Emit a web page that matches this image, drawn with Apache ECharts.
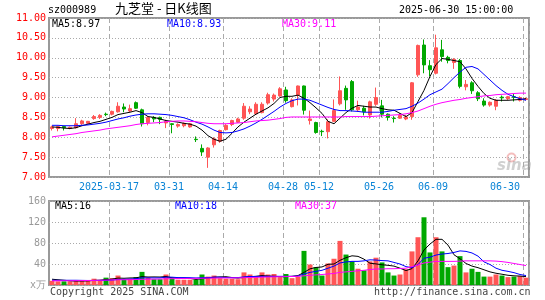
<!DOCTYPE html>
<html>
<head>
<meta charset="utf-8">
<script src="https://cdn.jsdelivr.net/npm/echarts@6/dist/echarts.min.js"></script>
<style>
  html, body { margin: 0; padding: 0; background: #fff; }
  #chart { width: 545px; height: 300px; }
</style>
</head>
<body>
<div id="chart"></div>
<script>
// 九芝堂 sz000989 日K线 2025-03-03 ~ 2025-06-30
var dates = [
  '2025-03-03','2025-03-04','2025-03-05','2025-03-06','2025-03-07','2025-03-10','2025-03-11','2025-03-12','2025-03-13','2025-03-14',
  '2025-03-17','2025-03-18','2025-03-19','2025-03-20','2025-03-21','2025-03-24','2025-03-25','2025-03-26','2025-03-27','2025-03-28',
  '2025-03-31','2025-04-01','2025-04-02','2025-04-03','2025-04-07','2025-04-08','2025-04-09','2025-04-10','2025-04-11','2025-04-14',
  '2025-04-15','2025-04-16','2025-04-17','2025-04-18','2025-04-21','2025-04-22','2025-04-23','2025-04-24','2025-04-25','2025-04-28',
  '2025-04-29','2025-04-30','2025-05-06','2025-05-07','2025-05-08','2025-05-12','2025-05-13','2025-05-14','2025-05-15','2025-05-16',
  '2025-05-19','2025-05-20','2025-05-21','2025-05-22','2025-05-23','2025-05-26','2025-05-27','2025-05-28','2025-05-29','2025-05-30',
  '2025-06-03','2025-06-04','2025-06-05','2025-06-06','2025-06-09','2025-06-10','2025-06-11','2025-06-12','2025-06-13','2025-06-16',
  '2025-06-17','2025-06-18','2025-06-19','2025-06-20','2025-06-23','2025-06-24','2025-06-25','2025-06-26','2025-06-27','2025-06-30'
];

var opens = [
  8.22, 8.22, 8.27, 8.22, 8.24, 8.34, 8.35, 8.47, 8.50, 8.58,
  8.58, 8.64, 8.76, 8.66, 8.87, 8.69, 8.37, 8.50, 8.50, 8.36,
  8.34, 8.28, 8.29, 8.26, 7.95, 7.72, 7.50, 7.81, 7.90, 8.19,
  8.32, 8.38, 8.48, 8.64, 8.59, 8.62, 8.86, 8.96, 9.04, 9.19,
  8.77, 9.06, 9.29, 8.42, 8.37, 8.15, 8.14, 8.40, 8.84, 9.23,
  9.40, 8.69, 8.73, 8.56, 8.83, 8.79, 8.58, 8.48, 8.48, 8.46,
  8.52, 9.57, 10.32, 9.80, 9.61, 10.20, 10.01, 9.88, 9.93, 9.27,
  9.37, 9.12, 8.91, 8.81, 8.78, 9.01, 8.97, 9.02, 8.93, 8.95
];
var closes = [
  8.26, 8.27, 8.24, 8.25, 8.34, 8.41, 8.40, 8.52, 8.55, 8.57,
  8.65, 8.78, 8.71, 8.72, 8.73, 8.34, 8.50, 8.46, 8.45, 8.40,
  8.32, 8.32, 8.35, 8.34, 7.94, 7.63, 7.73, 7.96, 8.17, 8.30,
  8.42, 8.46, 8.78, 8.71, 8.83, 8.83, 9.07, 9.06, 9.22, 8.92,
  8.94, 9.29, 8.68, 8.46, 8.12, 8.14, 8.39, 8.67, 9.17, 8.94,
  8.69, 8.76, 8.64, 8.89, 9.00, 8.58, 8.50, 8.47, 8.55, 8.51,
  9.37, 10.31, 9.82, 9.70, 10.25, 10.03, 9.93, 9.96, 9.28, 9.33,
  9.17, 8.97, 8.81, 8.88, 8.93, 8.99, 9.02, 9.00, 9.00, 8.97
];
var highs = [
  8.29, 8.29, 8.28, 8.27, 8.48, 8.44, 8.41, 8.56, 8.58, 8.62,
  8.67, 8.88, 8.85, 8.82, 8.90, 8.72, 8.52, 8.53, 8.52, 8.44,
  8.35, 8.35, 8.37, 8.36, 8.02, 7.82, 7.75, 8.00, 8.19, 8.33,
  8.44, 8.49, 8.86, 8.78, 8.88, 8.88, 9.12, 9.10, 9.26, 9.27,
  8.98, 9.30, 9.30, 8.67, 8.39, 8.19, 8.45, 8.95, 9.53, 9.30,
  9.44, 8.92, 8.79, 8.92, 9.25, 8.94, 8.60, 8.53, 8.61, 8.56,
  9.39, 10.33, 10.46, 9.94, 10.58, 10.45, 10.05, 9.99, 9.97, 9.44,
  9.41, 9.16, 8.98, 8.90, 8.96, 9.05, 9.04, 9.10, 9.03, 9.00
];
var lows = [
  8.17, 8.15, 8.17, 8.20, 8.22, 8.31, 8.33, 8.44, 8.46, 8.53,
  8.55, 8.62, 8.63, 8.63, 8.71, 8.27, 8.30, 8.38, 8.33, 8.23,
  8.10, 8.24, 8.25, 8.24, 7.88, 7.53, 7.23, 7.74, 7.86, 8.17,
  8.28, 8.36, 8.44, 8.58, 8.57, 8.60, 8.82, 8.90, 9.02, 8.87,
  8.75, 8.80, 8.57, 8.32, 8.09, 8.03, 7.97, 8.38, 8.80, 8.69,
  8.65, 8.64, 8.55, 8.47, 8.79, 8.50, 8.42, 8.37, 8.46, 8.43,
  8.44, 9.52, 9.61, 9.53, 9.58, 9.90, 9.86, 9.72, 9.23, 9.18,
  9.09, 8.91, 8.77, 8.77, 8.68, 8.90, 8.94, 8.90, 8.90, 8.93
];

var ma5 = [
  8.26, 8.25, 8.23, 8.22, 8.24, 8.29, 8.33, 8.37, 8.40, 8.45,
  8.50, 8.57, 8.60, 8.63, 8.67, 8.62, 8.52, 8.50, 8.46, 8.42,
  8.40, 8.38, 8.35, 8.33, 8.28, 8.18, 8.04, 7.95, 7.90, 7.95,
  8.10, 8.26, 8.38, 8.48, 8.58, 8.66, 8.74, 8.85, 9.00, 9.03,
  9.03, 9.06, 8.98, 8.87, 8.74, 8.60, 8.40, 8.34, 8.48, 8.62,
  8.73, 8.80, 8.78, 8.76, 8.76, 8.72, 8.69, 8.68, 8.60, 8.52,
  8.62, 8.90, 9.18, 9.53, 9.83, 9.98, 9.96, 9.93, 9.90, 9.72,
  9.48, 9.28, 9.10, 8.98, 8.93, 8.93, 8.93, 8.94, 8.95, 8.97
];
var ma10 = [
  8.30, 8.30, 8.29, 8.29, 8.29, 8.30, 8.31, 8.33, 8.35, 8.38,
  8.42, 8.46, 8.49, 8.53, 8.56, 8.58, 8.59, 8.59, 8.58, 8.57,
  8.55, 8.52, 8.49, 8.44, 8.38, 8.33, 8.26, 8.18, 8.12, 8.11,
  8.12, 8.16, 8.21, 8.28, 8.36, 8.45, 8.55, 8.65, 8.76, 8.85,
  8.92, 8.96, 8.96, 8.93, 8.87, 8.81, 8.75, 8.70, 8.67, 8.67,
  8.66, 8.65, 8.63, 8.63, 8.63, 8.63, 8.65, 8.68, 8.70, 8.72,
  8.78, 8.86, 8.96, 9.07, 9.14, 9.21, 9.35, 9.50, 9.64, 9.76,
  9.78, 9.72, 9.58, 9.44, 9.30, 9.18, 9.08, 9.02, 8.97, 8.93
];
var ma30 = [
  8.01, 8.03, 8.05, 8.07, 8.09, 8.12, 8.14, 8.16, 8.18, 8.21,
  8.23, 8.25, 8.27, 8.29, 8.32, 8.34, 8.35, 8.36, 8.37, 8.39,
  8.40, 8.41, 8.41, 8.40, 8.39, 8.37, 8.35, 8.34, 8.34, 8.34,
  8.35, 8.36, 8.37, 8.39, 8.41, 8.42, 8.43, 8.45, 8.47, 8.50,
  8.51, 8.51, 8.51, 8.51, 8.51, 8.51, 8.51, 8.51, 8.51, 8.52,
  8.52, 8.52, 8.52, 8.52, 8.53, 8.54, 8.55, 8.56, 8.57, 8.59,
  8.62, 8.66, 8.72, 8.78, 8.83, 8.87, 8.90, 8.93, 8.95, 8.98,
  9.00, 9.02, 9.04, 9.05, 9.07, 9.08, 9.09, 9.10, 9.11, 9.11
];

// 成交量(万手)
var volumes = [
  8, 7, 7, 7, 8, 9, 8, 12, 9, 14,
  13, 18, 10, 12, 15, 25, 14, 11, 11, 20,
  13, 10, 10, 10, 10, 20, 16, 18, 13, 12,
  12, 11, 24, 20, 16, 24, 20, 21, 15, 21,
  13, 16, 65, 39, 34, 18, 41, 50, 84, 58,
  45, 31, 28, 45, 52, 43, 24, 18, 20, 30,
  64, 91, 129, 62, 91, 64, 34, 37, 55, 24,
  31, 25, 16, 16, 20, 18, 15, 16, 17, 14
];
var volMa5 = [
  11, 10, 9, 8, 7.5, 7.6, 7.8, 8.8, 9.2, 10.4,
  11.2, 13.2, 12.8, 13.4, 13.6, 16, 15.2, 15.4, 15.2, 16.2,
  13.8, 13, 12.8, 12.6, 10.6, 12, 13.2, 14.8, 15.4, 15.8,
  14.2, 13.2, 14.4, 15.8, 16.6, 18, 17, 16.5, 16, 16,
  16.5, 18, 24, 30.8, 33.4, 34.4, 39.4, 40, 47, 52,
  55.6, 54.5, 49.2, 41.4, 40.2, 38.5, 37.5, 36, 32, 27.5,
  31.2, 46, 66.8, 78, 87, 87, 76, 57.6, 50, 41,
  36, 33, 29, 25, 22.4, 20.5, 18.5, 17.5, 17, 16
];
var volMa10 = [
  9, 9, 9, 9, 9, 8.8, 8.6, 8.6, 8.7, 8.9,
  9.4, 10.5, 10.8, 11.3, 12, 13.6, 13.6, 13.5, 13.6, 14.9,
  14.9, 14.1, 14.1, 13.9, 13.4, 13.9, 14.1, 14.9, 14.9, 14.2,
  14, 14.1, 15.5, 16.2, 16.2, 16.5, 16.5, 16.5, 16.5, 16.5,
  16.5, 17, 21, 24, 26, 28, 32, 36, 42, 44,
  45, 45, 46, 48, 47.5, 46.5, 46, 43, 40, 35,
  33, 39, 51, 53, 57, 59, 60, 62, 65, 64,
  61, 55, 44, 39, 32, 28, 26, 23.5, 20, 18
];
var volMa30 = [
  8, 8, 8.1, 8.2, 8.3, 8.5, 8.6, 8.8, 9, 9.3,
  9.6, 10, 10, 10.2, 10.4, 10.8, 11, 11.2, 11.4, 11.8,
  12, 12.2, 12.4, 12.5, 12.6, 12.8, 13, 13.2, 13.3, 13.4,
  13.5, 13.6, 14, 14.3, 14.6, 15, 15.3, 15.6, 15.8, 16,
  16.2, 16.5, 17.5, 18.5, 19.3, 20, 21, 22, 24, 25,
  26, 27, 28, 29.5, 30.5, 30.5, 31, 31, 31.5, 32,
  35, 38, 42, 43.5, 45, 45, 45, 45, 45.5, 46,
  46, 46, 46, 46, 45.5, 44.5, 43, 41, 39, 37
];

// 横轴刻度
var tickDates = ['2025-03-17','2025-03-31','2025-04-14','2025-04-28','2025-05-12','2025-05-26','2025-06-09','2025-06-30'];
var tickLabels = ['2025-03-17','03-31','04-14','04-28','05-12','05-26','06-09','06-30'];

var UP = '#ff5555';
var DOWN = '#00a800';
var MONO = 'DejaVu Sans Mono';

function isTick(idx, val) {
  return tickDates.indexOf(val) >= 0;
}

var kData = dates.map(function (d, i) {
  return [opens[i], closes[i], lows[i], highs[i]];
});
var volData = volumes.map(function (v, i) {
  return {
    value: v,
    itemStyle: { color: closes[i] >= opens[i] ? UP : DOWN }
  };
});

function last(arr) {
  return arr[arr.length - 1];
}

var dashedV = { show: true, interval: isTick, lineStyle: { color: '#aaa', type: [5, 3], width: 1 } };
var dottedH = { show: true, lineStyle: { color: '#aaa', type: [1, 2], width: 1 } };

function lineSeries(name, data, color, xi) {
  return {
    name: name,
    type: 'line',
    xAxisIndex: xi,
    yAxisIndex: xi,
    data: data,
    symbol: 'none',
    smooth: false,
    lineStyle: { color: color, width: 1 },
    z: 3
  };
}

function txt(x, y, text, color, size, font, align) {
  return {
    type: 'text',
    left: x, top: y,
    style: {
      text: text,
      fill: color,
      font: size + 'px "' + (font || MONO) + '"',
      textAlign: align || 'left'
    }
  };
}

var chart = echarts.init(document.getElementById('chart'), null, { renderer: 'canvas' });

var option = {
  animation: false,
  backgroundColor: '#fff',
  grid: [
    { left: 49, top: 18, width: 480, height: 159, show: true, borderColor: '#999', borderWidth: 2, backgroundColor: 'transparent' },
    { left: 49, top: 201, width: 480, height: 84, show: true, borderColor: '#999', borderWidth: 2, backgroundColor: 'transparent' }
  ],
  xAxis: [
    {
      type: 'category', gridIndex: 0, data: dates, boundaryGap: true,
      axisLine: { show: false }, axisTick: { show: false },
      axisLabel: {
        interval: isTick, color: '#0a84d6', fontFamily: MONO, fontSize: 10, margin: 5,
        padding: [0, 6, 0, 0],
        alignMaxLabel: 'right',
        formatter: function (val) { return tickLabels[tickDates.indexOf(val)]; }
      },
      splitLine: dashedV
    },
    {
      type: 'category', gridIndex: 1, data: dates, boundaryGap: true,
      axisLine: { show: false }, axisTick: { show: false },
      axisLabel: { show: false, interval: isTick },
      splitLine: dashedV
    }
  ],
  yAxis: [
    {
      type: 'value', gridIndex: 0, min: 7, max: 11, interval: 0.5,
      axisLine: { show: false }, axisTick: { show: false },
      axisLabel: { color: '#ff0000', fontFamily: MONO, fontSize: 10, margin: 3, formatter: function (v) { return v.toFixed(2); } },
      splitLine: dottedH
    },
    {
      type: 'value', gridIndex: 1, min: 0, max: 160, interval: 40,
      axisLine: { show: false }, axisTick: { show: false },
      axisLabel: { color: '#999', fontFamily: MONO, fontSize: 10, margin: 3, formatter: function (v) { return v === 0 ? 'x万' : v; } },
      splitLine: dottedH
    }
  ],
  series: [
    {
      name: '日K', type: 'candlestick', xAxisIndex: 0, yAxisIndex: 0, data: kData,
      barWidth: 4,
      itemStyle: { color: UP, color0: DOWN, borderColor: UP, borderColor0: DOWN, borderWidth: 1 },
      z: 2
    },
    lineSeries('MA5', ma5, '#000', 0),
    lineSeries('MA10', ma10, '#0000ff', 0),
    lineSeries('MA30', ma30, '#ff00ff', 0),
    {
      name: '成交量', type: 'bar', xAxisIndex: 1, yAxisIndex: 1, data: volData,
      barWidth: 5, z: 2
    },
    lineSeries('VMA5', volMa5, '#000', 1),
    lineSeries('VMA10', volMa10, '#0000ff', 1),
    lineSeries('VMA30', volMa30, '#ff00ff', 1)
  ],
  graphic: [
    txt(48, 5, 'sz000989', '#000', 10),
    txt(115, 2, '九芝堂 - 日K线图', '#000', 13, 'Noto Sans CJK SC'),
    txt(399, 5, last(dates) + ' 15:00:00', '#000', 10),
    txt(52, 19, 'MA5:' + last(ma5).toFixed(2), '#000', 10),
    txt(167, 19, 'MA10:' + last(ma10).toFixed(2), '#0000ff', 10),
    txt(282, 19, 'MA30:' + last(ma30).toFixed(2), '#ff00ff', 10),
    txt(55, 201, 'MA5:' + Math.round(last(volMa5)), '#000', 10),
    txt(175, 201, 'MA10:' + Math.round(last(volMa10)), '#0000ff', 10),
    txt(295, 201, 'MA30:' + Math.round(last(volMa30)), '#ff00ff', 10),
    txt(50, 287, 'Copyright 2025 SINA.COM', '#444', 10),
    txt(374, 287, 'http://finance.sina.com.cn', '#444', 10),
    {
      type: 'circle', left: 505, top: 151,
      shape: { r: 4 },
      style: { fill: 'none', stroke: 'rgba(230,110,110,0.45)', lineWidth: 2 }
    },
    {
      type: 'text', left: 497, top: 159,
      style: { text: 'sina', fill: 'rgba(150,150,150,0.45)', font: 'italic bold 15px "DejaVu Sans"' }
    }
  ]
};

chart.setOption(option);
</script>
</body>
</html>
